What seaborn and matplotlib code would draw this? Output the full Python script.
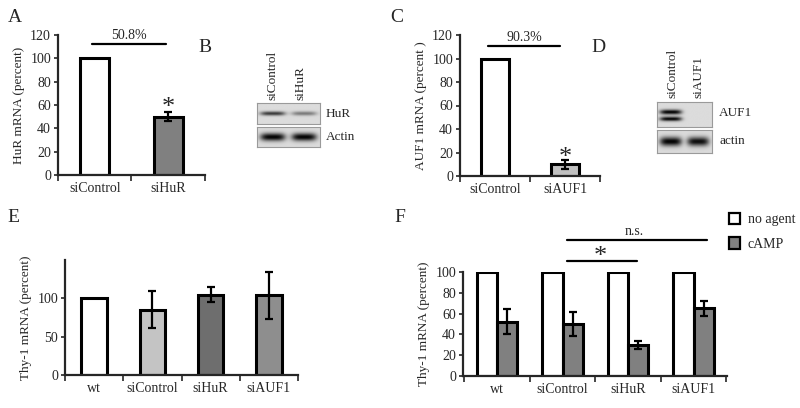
import numpy as np
import pandas as pd
import matplotlib
matplotlib.use("Agg")
import matplotlib.pyplot as plt
import seaborn as sns
from matplotlib.patches import Patch

# panel A: HuR knockdown
a_groups = ["siControl", "siHuR"]
a_values = [100, 50]
a_err = [0, 4]
a_colors = ["white", "#808080"]

# panel C: AUF1 knockdown
c_groups = ["siControl", "siAUF1"]
c_values = [100, 10]
c_err = [0, 4]
c_colors = ["white", "#c0c0c0"]

# panel E: basal Thy-1 mRNA
e_groups = ["wt", "siControl", "siHuR", "siAUF1"]
e_values = [100, 85, 105, 104]
e_err = [0, 24, 10, 31]
e_colors = ["white", "#c4c4c4", "#6e6e6e", "#8e8e8e"]

# panel F: Thy-1 mRNA with / without cAMP
f_groups = ["wt", "siControl", "siHuR", "siAUF1"]
f_noagent = [100, 100, 100, 100]
f_camp = [52, 50, 30, 65]
f_camp_err = [12, 12, 4, 7]

# blots (relative band strength per lane)
b_lanes = ["siControl", "siHuR"]
b_hur = [0.75, 0.45]
b_actin = [1.0, 1.0]
d_lanes = ["siControl", "siAUF1"]
d_auf1 = [1.0, 0.0]
d_actin = [1.0, 0.95]

W, H = 800, 408

sns.set_style("ticks")
plt.rcParams["font.family"] = ["Liberation Serif", "DejaVu Serif"]
plt.rcParams["axes.linewidth"] = 1.6

fig = plt.figure(figsize=(W / 100, H / 100), dpi=100)


def px_axes(l, t, r, b):
    return fig.add_axes([l / W, 1 - b / H, (r - l) / W, (b - t) / H])


def style_axes(ax, n):
    sns.despine(ax=ax)
    ax.tick_params(axis="y", length=3, width=1.2, labelsize=10, pad=2)
    ax.tick_params(axis="x", which="major", length=0, labelsize=10, pad=5)
    ax.set_xticks(np.arange(-0.5, n, 1.0), minor=True)
    ax.tick_params(axis="x", which="minor", length=4, width=1.2)
    ax.set_xlabel("")


def simple_bars(ax, groups, values, err, colors, width):
    df = pd.DataFrame({"group": groups, "value": values})
    sns.barplot(data=df, x="group", y="value", hue="group", palette=colors,
                edgecolor="black", linewidth=2.2, width=width, legend=False,
                errorbar=None, ax=ax)
    for i, (v, e) in enumerate(zip(values, err)):
        if e > 0:
            ax.errorbar(i, v, yerr=e, fmt="none", ecolor="black",
                        elinewidth=1.6, capsize=3, capthick=1.6)


def blot(ax, strengths, double=False, thin=False):
    ny, nx = 40, 120
    yy, xx = np.mgrid[0:1:ny * 1j, 0:1:nx * 1j]
    img = np.full((ny, nx), 0.86)
    n = len(strengths)
    for i, s in enumerate(strengths):
        cx = (i + 0.5) / n
        px_ = np.exp(-((xx - cx) / 0.2) ** 4)
        if double:
            py_ = np.exp(-((yy - 0.4) / 0.1) ** 2) + np.exp(-((yy - 0.68) / 0.09) ** 2)
        elif thin:
            py_ = np.exp(-((yy - 0.5) / 0.1) ** 2)
        else:
            py_ = np.exp(-((yy - 0.5) / 0.2) ** 2)
        img -= s * 0.85 * px_ * py_
    ax.imshow(np.clip(img, 0, 1), cmap="gray", vmin=0, vmax=1,
              aspect="auto", interpolation="bilinear")
    ax.set_xticks([])
    ax.set_yticks([])
    for sp in ax.spines.values():
        sp.set_color("#9a9a9a")
        sp.set_linewidth(0.8)


# ---- A ----
axA = px_axes(58, 35, 205, 175)
simple_bars(axA, a_groups, a_values, a_err, a_colors, 0.4)
axA.set_xlim(-0.49, 1.47)
axA.set_ylim(0, 120)
axA.set_yticks(range(0, 121, 20))
axA.set_ylabel("HuR mRNA (percent)", fontsize=9.5)
style_axes(axA, 2)
axA.plot([-0.04, 0.97], [112, 112], color="black", lw=1.6, clip_on=False)
axA.text(0.47, 114, "50.8%", ha="center", va="bottom", fontsize=10)
axA.text(1, 48, "*", ha="center", va="bottom", fontsize=19)

# ---- C ----
axC = px_axes(460, 35, 600, 176)
simple_bars(axC, c_groups, c_values, c_err, c_colors, 0.4)
axC.set_xlim(-0.5, 1.39)
axC.set_ylim(0, 120)
axC.set_yticks(range(0, 121, 20))
axC.set_ylabel("AUF1 mRNA (percent )", fontsize=9.5)
style_axes(axC, 2)
axC.plot([-0.1, 0.93], [110.5, 110.5], color="black", lw=1.6, clip_on=False)
axC.text(0.42, 112.5, "90.3%", ha="center", va="bottom", fontsize=10)
axC.text(1, 6, "*", ha="center", va="bottom", fontsize=19)

# ---- B blot ----
axB1 = px_axes(257, 103, 320, 124)
blot(axB1, b_hur, thin=True)
axB2 = px_axes(257, 127, 320, 147)
blot(axB2, b_actin)
fig.text(326 / W, 1 - 114 / H, "HuR", fontsize=9.5, va="center")
fig.text(326 / W, 1 - 137 / H, "Actin", fontsize=9.5, va="center")
for xp, lab in zip([272, 301], b_lanes):
    fig.text(xp / W, 1 - 100 / H, lab, rotation=90, ha="center", va="bottom", fontsize=9.5)

# ---- D blot ----
axD1 = px_axes(657, 102, 712, 127)
blot(axD1, d_auf1, double=True)
axD2 = px_axes(657, 130, 712, 153)
blot(axD2, d_actin)
fig.text(719 / W, 1 - 113 / H, "AUF1", fontsize=9.5, va="center")
fig.text(719 / W, 1 - 141 / H, "actin", fontsize=9.5, va="center")
for xp, lab in zip([673, 698], d_lanes):
    fig.text(xp / W, 1 - 98 / H, lab, rotation=90, ha="center", va="bottom", fontsize=9.5)

# ---- E ----
axE = px_axes(65, 260, 298, 375)
simple_bars(axE, e_groups, e_values, e_err, e_colors, 0.44)
axE.set_xlim(-0.5, 3.48)
axE.set_ylim(0, 150)
axE.set_yticks([0, 50, 100])
axE.set_ylabel("Thy-1 mRNA (percent)", fontsize=9.5)
style_axes(axE, 4)

# ---- F ----
axF = px_axes(463, 272, 727, 376)
f_df = pd.DataFrame({
    "group": f_groups * 2,
    "cond": ["no agent"] * 4 + ["cAMP"] * 4,
    "value": f_noagent + f_camp,
})
sns.barplot(data=f_df, x="group", y="value", hue="cond",
            palette={"no agent": "white", "cAMP": "#808080"},
            edgecolor="black", linewidth=2.2, width=0.62, errorbar=None,
            legend=False, ax=axF)
axF.errorbar(np.arange(4) + 0.155, f_camp, yerr=f_camp_err, fmt="none",
             ecolor="black", elinewidth=1.6, capsize=3, capthick=1.6)
axF.set_xlim(-0.52, 3.51)
axF.set_ylim(0, 100)
axF.set_yticks(range(0, 101, 20))
axF.set_ylabel("Thy-1 mRNA (percent)", fontsize=9.5)
style_axes(axF, 4)
axF.plot([1.07, 2.14], [110.5, 110.5], color="black", lw=1.6, clip_on=False)
axF.text(1.57, 104, "*", ha="center", va="bottom", fontsize=19)
axF.plot([1.07, 3.2], [131, 131], color="black", lw=1.6, clip_on=False)
axF.text(2.1, 133, "n.s.", ha="center", va="bottom", fontsize=10)

handles = [Patch(facecolor="white", edgecolor="black", linewidth=1.6, label="no agent"),
           Patch(facecolor="#808080", edgecolor="black", linewidth=1.6, label="cAMP")]
fig.legend(handles=handles, loc="upper left", bbox_to_anchor=(716 / W, 1 - 200 / H),
           frameon=False, fontsize=10, handlelength=0.8, handleheight=0.9,
           labelspacing=0.8, handletextpad=0.6)

# panel letters
for x, y, s in [(15, 18, "A"), (205, 47, "B"), (397, 17, "C"),
                (598, 47, "D"), (13, 217, "E"), (400, 217, "F")]:
    fig.text(x / W, 1 - y / H, s, fontsize=14, ha="center", va="center")

fig.savefig("out.png", dpi=100)
